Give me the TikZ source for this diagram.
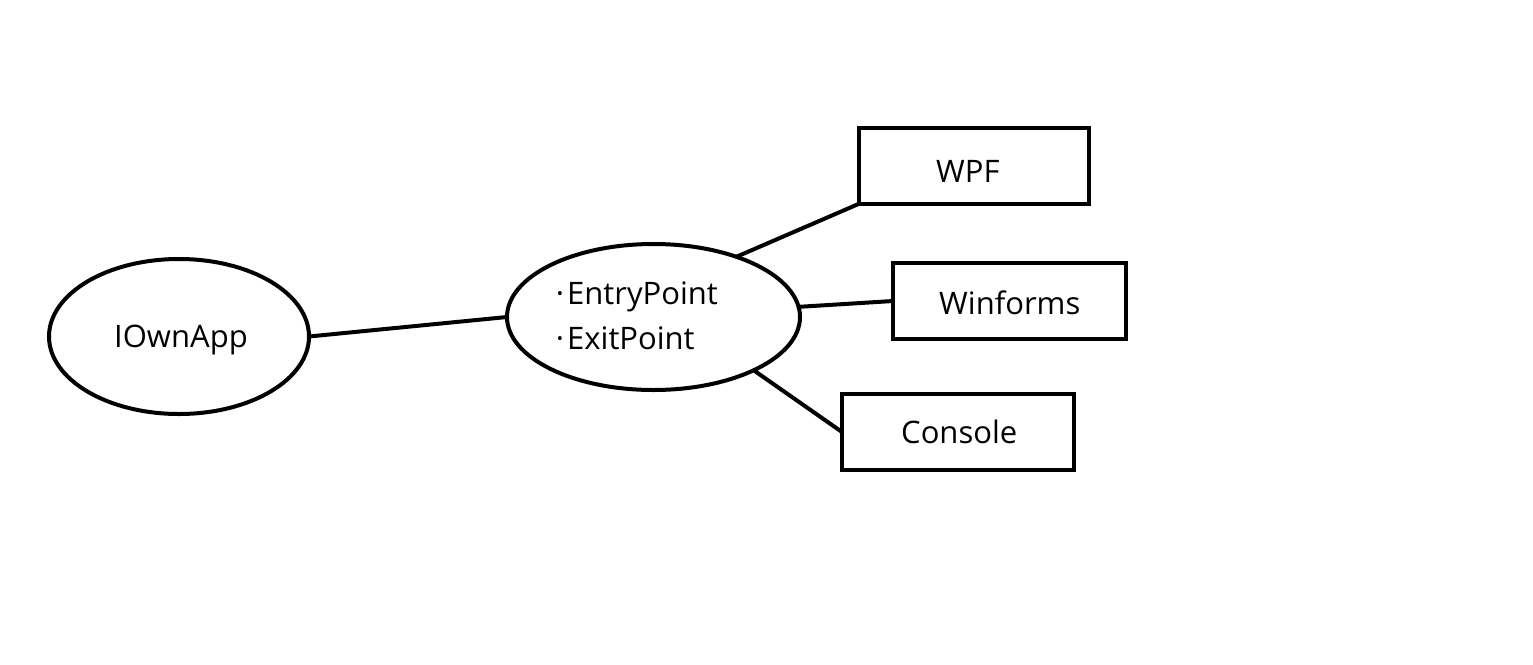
\documentclass[tikz,border=0pt]{standalone}
\usepackage{fontspec}
\setmainfont{Open Sans}
\usetikzlibrary{shapes.geometric}
\begin{document}
\begin{tikzpicture}[x=1pt,y=-1pt,
  shp/.style={draw=black,line width=4pt,inner sep=0pt,outer sep=0pt},
  oval/.style={shp,ellipse},
  box/.style={shp,rectangle},
  txt/.style={anchor=base west,inner sep=0pt,font=\fontsize{31}{37}\selectfont},
  link/.style={draw=black,line width=4pt}]
\useasboundingbox[fill=white] (0,0) rectangle (1533,664);
\node[oval,minimum width=260pt,minimum height=155pt] (app) at (179,336.5) {};
\node[oval,minimum width=293pt,minimum height=146pt] (ep) at (653.5,317) {};
\node[box,minimum width=230.5pt,minimum height=76pt] (wpf) at (973.75,166) {};
\node[box,minimum width=233pt,minimum height=76pt] (win) at (1009.5,301) {};
\node[box,minimum width=232pt,minimum height=76pt] (con) at (958,432) {};
\node[txt] (appt) at (114,347) {IOwnApp};
\node[txt] (ept1) at (567,304) {\llap{·\hspace{3pt}}EntryPoint};
\node[txt] (ept2) at (567,349) {\llap{·\hspace{3pt}}ExitPoint};
\node[txt] (wpft) at (936,182) {WPF};
\node[txt] (wint) at (939,314) {Winforms};
\node[txt] (cont) at (901,443) {Console};
\draw[link] (app.east) -- (ep.west);
\draw[link] (ep.36) -- (wpf.south west);
\draw[link] (ep.4) -- (win.west);
\draw[link] (ep.-28) -- (con.west);
\end{tikzpicture}
\end{document}
